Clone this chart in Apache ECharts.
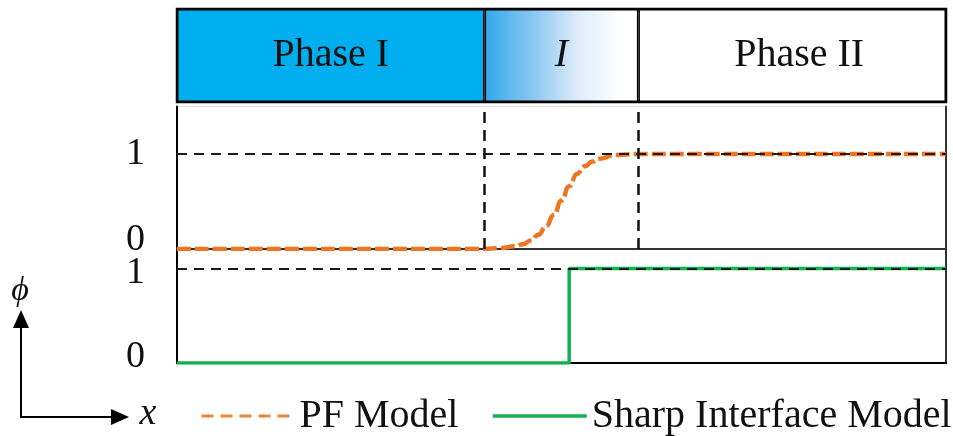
<!DOCTYPE html>
<html>
<head>
<meta charset="utf-8">
<script src="https://cdn.jsdelivr.net/npm/echarts@6/dist/echarts.min.js"></script>
<style>
  html, body { margin: 0; padding: 0; background: #fff; }
  #chart { width: 953px; height: 436px; }
</style>
</head>
<body>
<div id="chart"></div>
<script>
// Regions along x: Phase I | diffuse interface I | Phase II
const phaseNames = ['Phase I', 'I', 'Phase II'];
const phaseEdges = [0, 4, 6, 10];
const interfaceEdges = [4, 6];

// Phase-field order parameter (diffuse profile)
const pfX   = [0, 4.0, 4.2, 4.4, 4.5, 4.6, 4.7, 4.8, 4.9, 5.0, 5.1, 5.2, 5.3, 5.4, 5.5, 5.7, 6.0, 10];
const pfPhi = [0, 0.00, 0.01, 0.03, 0.05, 0.09, 0.15, 0.24, 0.36, 0.51, 0.66, 0.79, 0.87, 0.92, 0.95, 0.99, 1.00, 1.00];

// Sharp-interface order parameter (step)
const sharpX   = [0, 5.1, 5.1, 10];
const sharpPhi = [0, 0, 1, 1];

const phiTicks = [0, 1];
const legendNames = ['PF Model', 'Sharp Interface Model'];

const FONT = "'Liberation Serif', 'DejaVu Serif', serif";
const ORANGE = '#EE7623';
const GREEN = '#14B04F';
const BLUE = '#00AEEF';

const chart = echarts.init(document.getElementById('chart'), null, { renderer: 'canvas' });

const gridL = 177, gridW = 769;

const phaseColors = [
  BLUE,
  new echarts.graphic.LinearGradient(0, 0, 1, 0, [
    { offset: 0, color: '#2EA9EC' },
    { offset: 0.3, color: '#86C5F1' },
    { offset: 0.6, color: '#DCEBFA' },
    { offset: 0.88, color: '#FFFFFF' },
    { offset: 1, color: '#FFFFFF' }
  ]),
  '#FFFFFF'
];

const phaseSeries = phaseNames.map((name, i) => ({
  type: 'bar',
  name: name,
  xAxisIndex: 0,
  yAxisIndex: 0,
  stack: 'phases',
  barWidth: '100%',
  silent: true,
  data: [phaseEdges[i + 1] - phaseEdges[i]],
  itemStyle: { color: phaseColors[i], borderColor: '#000', borderWidth: 1.5 },
  label: {
    show: true,
    position: 'inside',
    offset: [i === 2 ? 7 : 0, 0],
    formatter: name,
    color: '#111',
    fontFamily: FONT,
    fontSize: 40,
    fontStyle: i === 1 ? 'italic' : 'normal'
  }
}));

const dashStyle = { color: '#1a1a1a', width: 2.2, type: [10, 7] };

const option = {
  animation: false,
  backgroundColor: '#fff',
  grid: [
    { left: gridL, width: gridW, top: 9, height: 93, show: true, borderColor: '#000', borderWidth: 2.5, backgroundColor: 'transparent' },
    { left: gridL, width: gridW, top: 106.5, height: 142.5, show: true, borderColor: '#e2e2e2', borderWidth: 1 },
    { left: gridL, width: gridW, top: 249.6, height: 113.4, show: true, borderColor: '#e8e8e8', borderWidth: 1 }
  ],
  xAxis: [0, 1, 2].map(g => ({
    type: 'value', gridIndex: g, min: 0, max: 10,
    axisLine: { show: g > 0, onZero: false, lineStyle: { color: g === 1 ? '#333' : '#000', width: 2 } },
    axisTick: { show: false }, axisLabel: { show: false }, splitLine: { show: false }
  })),
  yAxis: [
    { type: 'category', gridIndex: 0, data: ['phase'], show: false },
    { type: 'value', gridIndex: 1, min: 0, max: 1.5, interval: 1,
      axisLine: { show: true, onZero: false, lineStyle: { color: '#000', width: 2 } },
      axisTick: { show: false }, axisLabel: { show: false }, splitLine: { show: false } },
    { type: 'value', gridIndex: 2, min: 0, max: 1.2, interval: 1,
      axisLine: { show: true, onZero: false, lineStyle: { color: '#000', width: 2 } },
      axisTick: { show: false }, axisLabel: { show: false }, splitLine: { show: false } },
    { type: 'value', gridIndex: 1, position: 'right', min: 0, max: 1.5,
      axisLine: { show: true, onZero: false, lineStyle: { color: '#333', width: 2 } },
      axisTick: { show: false }, axisLabel: { show: false }, splitLine: { show: false } },
    { type: 'value', gridIndex: 2, position: 'right', min: 0, max: 1.2,
      axisLine: { show: true, onZero: false, lineStyle: { color: '#333', width: 2 } },
      axisTick: { show: false }, axisLabel: { show: false }, splitLine: { show: false } }
  ],
  legend: [
    { data: [legendNames[0]], left: 195, top: 391, itemWidth: 88, itemHeight: 14,
      itemStyle: { opacity: 0 },
      lineStyle: { width: 3, type: [12, 7], color: '#F08436' },
      textStyle: { fontFamily: FONT, fontSize: 40, color: '#111', padding: [0, 0, 0, 5] } },
    { data: [legendNames[1]], left: 486, top: 391, itemWidth: 94, itemHeight: 14,
      itemStyle: { opacity: 0 },
      lineStyle: { width: 3.5 },
      textStyle: { fontFamily: FONT, fontSize: 40, color: '#111', padding: [0, 0, 0, 0] } }
  ],
  series: [
    ...phaseSeries,
    {
      // guide lines in the phase-field panel
      type: 'line', name: 'guides-pf', xAxisIndex: 1, yAxisIndex: 1, data: [], z: 1,
      silent: true,
      markLine: {
        silent: true, symbol: 'none', label: { show: false },
        lineStyle: dashStyle,
        data: [{ yAxis: 1 }].concat(interfaceEdges.map(v => ({ xAxis: v, lineStyle: { color: '#111', width: 2.5, type: [11, 7] } })))
      }
    },
    {
      type: 'line', name: 'guides-sharp', xAxisIndex: 2, yAxisIndex: 2, data: [], z: 1,
      silent: true,
      markLine: {
        silent: true, symbol: 'none', label: { show: false },
        lineStyle: dashStyle,
        data: [{ yAxis: 1 }]
      }
    },
    {
      type: 'line', name: legendNames[0], xAxisIndex: 1, yAxisIndex: 1, z: 3,
      smooth: true, smoothMonotone: 'x', symbol: 'none',
      itemStyle: { color: ORANGE },
      lineStyle: { color: ORANGE, width: 4.5, type: [14, 4] },
      data: pfX.map((x, i) => [x, pfPhi[i]])
    },
    {
      type: 'line', name: legendNames[1], xAxisIndex: 2, yAxisIndex: 2, z: 3,
      symbol: 'none',
      itemStyle: { color: GREEN },
      lineStyle: { color: GREEN, width: 3.5 },
      data: sharpX.map((x, i) => [x, sharpPhi[i]])
    }
  ],
  graphic: [
    // phi / x reference arrows
    { type: 'line', shape: { x1: 21, y1: 417, x2: 21, y2: 326 }, style: { stroke: '#000', lineWidth: 2 } },
    { type: 'polygon', shape: { points: [[21, 310], [13, 328], [29, 328]] }, style: { fill: '#000' } },
    { type: 'line', shape: { x1: 20, y1: 417, x2: 113, y2: 417 }, style: { stroke: '#000', lineWidth: 2 } },
    { type: 'polygon', shape: { points: [[129, 417], [111, 409], [111, 425]] }, style: { fill: '#000' } },
    { type: 'text', x: 20, y: 291, style: { text: 'ϕ', font: 'italic 34px ' + FONT, fill: '#111', align: 'center', verticalAlign: 'middle' } },
    { type: 'text', x: 148, y: 414, style: { text: 'x', font: 'italic 38px ' + FONT, fill: '#111', align: 'center', verticalAlign: 'middle' } }
  ]
};

chart.setOption(option);

// Tick labels for the two phi panels, positioned through each panel's own axis
const tickNudge = [
  { 0: -9, 1: 0 },   // phase-field panel
  { 0: -6, 1: 5 }    // sharp-interface panel
];
const tickText = [];
[1, 2].forEach((g, k) => {
  phiTicks.forEach(v => {
    const p = chart.convertToPixel({ xAxisIndex: g, yAxisIndex: g }, [0, v]);
    tickText.push({
      type: 'text', x: 145, y: p[1] + tickNudge[k][v],
      style: { text: String(v), font: '38px ' + FONT, fill: '#111', align: 'right', verticalAlign: 'middle' }
    });
  });
});
chart.setOption({ graphic: option.graphic.concat(tickText) }, { replaceMerge: ['graphic'] });
</script>
</body>
</html>
